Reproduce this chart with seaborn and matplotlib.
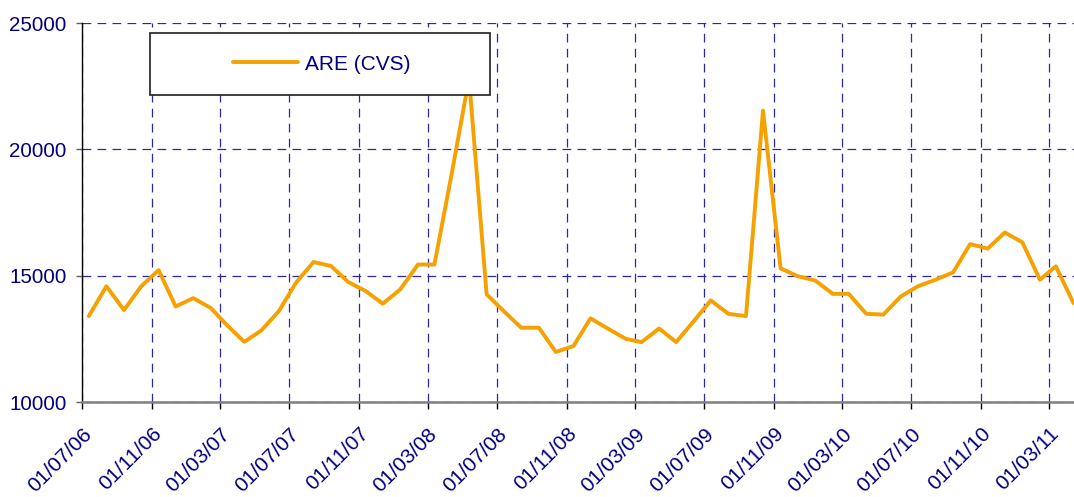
import pandas as pd
import seaborn as sns
import matplotlib.pyplot as plt
from matplotlib.patches import Rectangle

# monthly values, Jul 2006 -> Apr 2011
are_cvs = [13400, 14580, 13640, 14570, 15220, 13780, 14110, 13720, 13050, 12380,
           12830, 13600, 14720, 15540, 15380, 14750, 14390, 13890, 14460, 15440,
           15440, 19100, 22800, 14260, 13600, 12940, 12940, 11980, 12215, 13310,
           12900, 12500, 12370, 12910, 12370, 13200, 14020, 13490, 13400, 21530,
           15290, 14980, 14810, 14280, 14280, 13490, 13460, 14180, 14580, 14840,
           15130, 16250, 16070, 16710, 16320, 14840, 15370, 13920]
months = pd.date_range("2006-07-01", periods=len(are_cvs), freq="MS") + pd.Timedelta(days=12)
tick_dates = pd.date_range("2006-07-01", "2011-03-01", freq="4MS")
tick_labels = [d.strftime("%d/%m/%y") for d in tick_dates]
y_ticks = [10000, 15000, 20000, 25000]

df = pd.DataFrame({"date": months, "value": are_cvs})

sns.set_style("white")
plt.rcParams['font.family'] = ['Liberation Sans', 'DejaVu Sans']

navy = "#000080"
grid_blue = "#2828A8"
orange = "#F5A100"

fig = plt.figure(figsize=(10.74, 4.97), dpi=100)
ax = fig.add_axes([82/1074, 1 - 402/497, (1074 - 82)/1074, 379/497])

sns.lineplot(data=df, x="date", y="value", color=orange, linewidth=2.8, ax=ax, label="ARE (CVS)")

ax.set_ylim(10000, 25000)
ax.set_xlim(pd.Timestamp("2006-07-01"), pd.Timestamp("2011-04-14"))
ax.set_yticks(y_ticks)
ax.set_yticklabels([str(v) for v in y_ticks], color=navy, fontsize=14.8)
ax.set_xticks(tick_dates)
ax.set_xticklabels(tick_labels, color=navy, fontsize=15, rotation=45, ha="right",
                   va="top", rotation_mode="anchor")
ax.set_xlabel("")
ax.set_ylabel("")

ax.grid(True, color=grid_blue, linestyle=(0, (7, 5)), linewidth=0.9)
for sp in ["top", "right"]:
    ax.spines[sp].set_visible(False)
ax.spines["left"].set_color("black")
ax.spines["left"].set_linewidth(1)
ax.spines["bottom"].set_color("#808080")
ax.spines["bottom"].set_linewidth(1.8)
ax.tick_params(axis="x", direction="out", length=5, width=1, color="black", pad=11, bottom=True)
ax.tick_params(axis="y", direction="out", length=4, width=1, color="#606060", pad=7, left=True)

# legend box
box = Rectangle((150/1074, 1 - 95/497), 340/1074, 62/497, transform=fig.transFigure,
                facecolor="white", edgecolor="#303030", linewidth=1.3, zorder=4, clip_on=False)
ax.add_patch(box)
leg = ax.legend(loc="center", bbox_to_anchor=(322/1074, 1 - 64/497), bbox_transform=fig.transFigure,
                frameon=False, fontsize=15, handlelength=3.1, handletextpad=0.35)
for t in leg.get_texts():
    t.set_color(navy)
leg.set_zorder(5)

fig.savefig("out.png", dpi=100)
